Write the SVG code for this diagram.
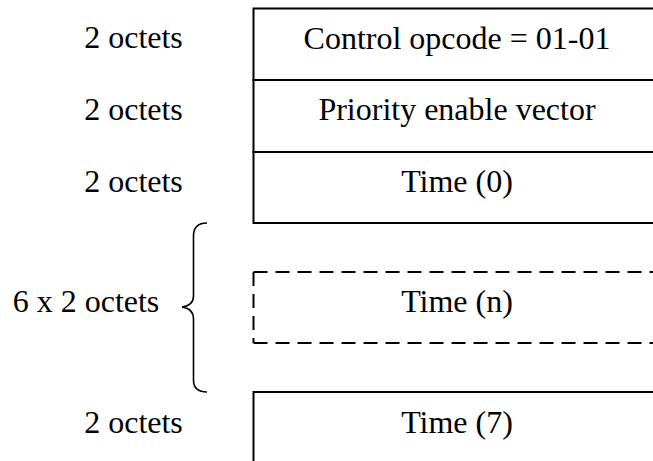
<svg xmlns="http://www.w3.org/2000/svg" width="653" height="461" viewBox="0 0 653 461">
<style>
.t{font-family:"Liberation Serif","Times New Roman",serif;font-size:32px;fill:#000;text-anchor:middle}
.b{fill:none;stroke:#000;stroke-width:2}
.d{fill:none;stroke:#000;stroke-width:2;stroke-dasharray:14 8}
</style>
<rect width="653" height="461" fill="#fff"/>
<g id="labels">
<text class="t" x="133.5" y="48">2 octets</text>
<text class="t" x="133.5" y="120">2 octets</text>
<text class="t" x="133.5" y="192">2 octets</text>
<text class="t" x="86" y="312">6 x 2 octets</text>
<text class="t" x="133.5" y="433">2 octets</text>
</g>
<g id="opcode">
<rect class="b" x="253.5" y="8.5" width="410" height="71.5"/>
<text class="t" x="457" y="49">Control opcode = 01-01</text>
</g>
<g id="priority">
<rect class="b" x="253.5" y="80" width="410" height="72"/>
<text class="t" x="457" y="120">Priority enable vector</text>
</g>
<g id="time0">
<rect class="b" x="253.5" y="152" width="410" height="71"/>
<text class="t" x="457" y="192">Time (0)</text>
</g>
<g id="timen">
<path class="d" d="M253.5,272 H670"/>
<path class="d" d="M253.5,272 V343"/>
<path class="d" d="M253.5,343 H670"/>
<text class="t" x="457" y="312">Time (n)</text>
</g>
<g id="time7">
<rect class="b" x="253.5" y="392" width="410" height="80"/>
<text class="t" x="457" y="433">Time (7)</text>
</g>
<g id="connectors">
<path fill="none" stroke="#000" stroke-width="1.6" d="M207,223 C199,223 193.5,226 193.5,236 V296 C193.5,303 189,306 182,307 C189,308 193.5,312 193.5,319 V380 C193.5,389 199,392 207,392"/>
</g>
</svg>
